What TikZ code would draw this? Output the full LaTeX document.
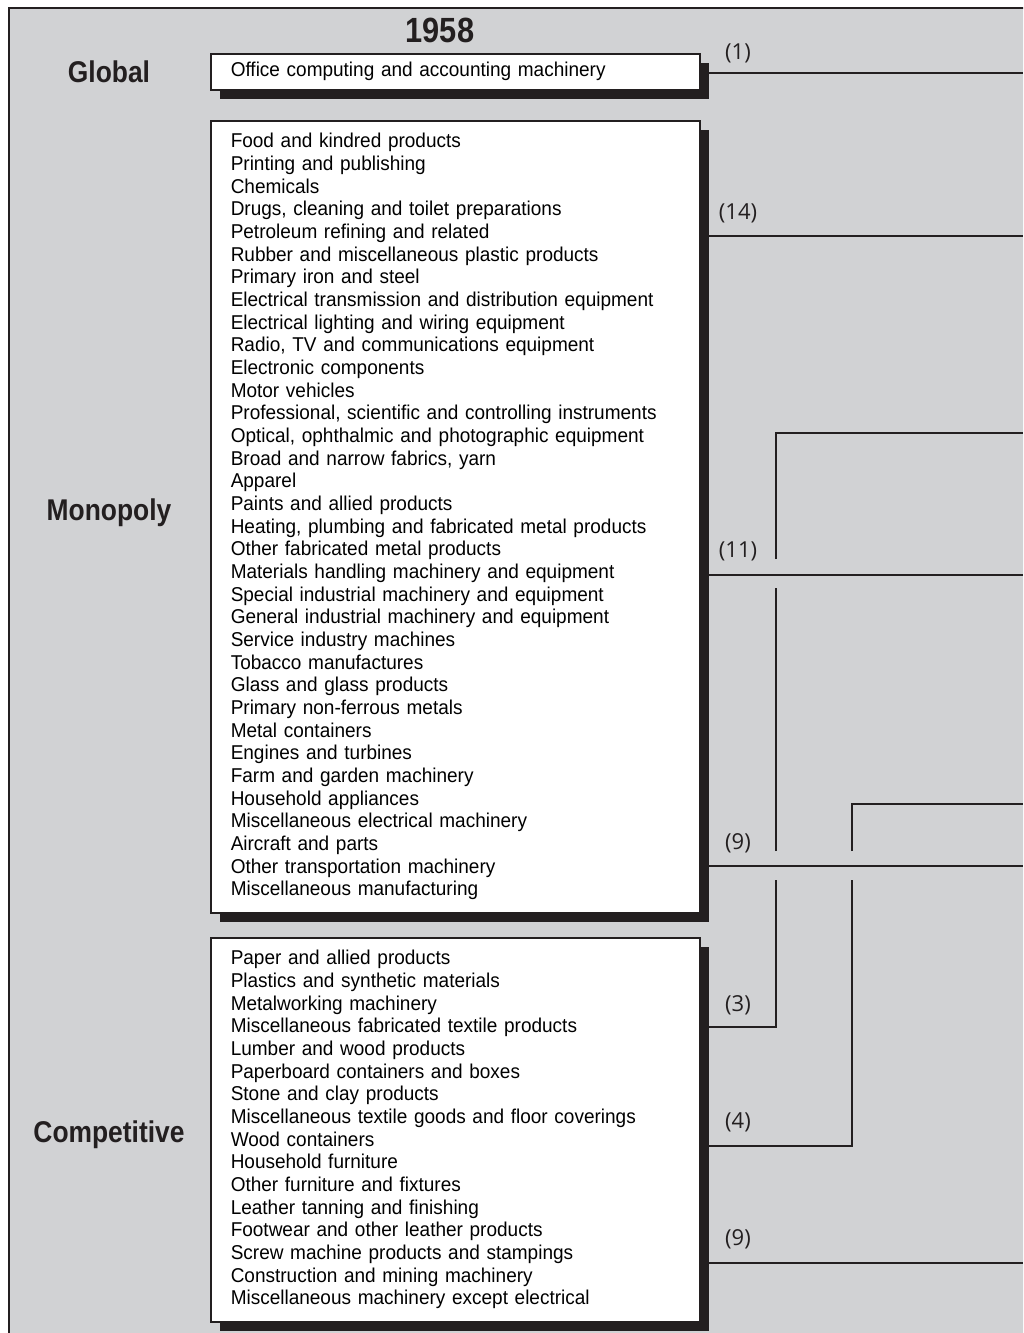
\documentclass[tikz,border=0pt]{standalone}
\usepackage{fontspec}
\setmainfont{Liberation Sans}[FakeStretch=0.95]
\newfontfamily\headfont{Liberation Sans}[FakeStretch=0.88]
\newfontfamily\labfont{Open Sans}
\usetikzlibrary{shadows}
\definecolor{bg}{HTML}{D1D2D4}
\definecolor{ink}{HTML}{231F20}
\begin{document}
\begin{tikzpicture}[x=1pt,y=-1pt,
  listbox/.style={draw=ink, line width=1.5pt, fill=white, anchor=north west,
    minimum width=489pt, inner xsep=20pt, inner ysep=0pt, text width=449pt,
    align=left, text=black, font=\fontsize{20}{22.67}\selectfont,
    drop shadow={shadow xshift=9pt, shadow yshift=-9pt, fill=ink, opacity=1}},
  head/.style={anchor=base, text=ink, font=\headfont\bfseries\fontsize{35}{35}\selectfont},
  cat/.style={anchor=base, text=ink, font=\headfont\bfseries\fontsize{30}{30}\selectfont},
  lab/.style={text=ink, inner sep=0pt, font=\labfont\fontsize{22}{22}\selectfont},
  conn/.style={draw=ink, line width=2pt, line join=miter}]
\useasboundingbox (0,0) rectangle (1023,1333);
\clip (0,0) rectangle (1023,1333);
\fill[white] (0,0) rectangle (1023,1333);
\fill[bg] (9,8) rectangle (1040,1350);
\draw[ink, line width=2.5pt] (9,1350) -- (9,8) -- (1040,8);

\node[head] (yr) at (440,42) {1958};
\node[cat] (cg) at (109,82) {Global};
\node[cat] (cm) at (109,520) {Monopoly};
\node[cat] (cc) at (109,1142) {Competitive};

\node[listbox, minimum height=36pt] (glob) at (210,53) {Office computing and accounting machinery};
\node[listbox, minimum height=792pt] (mono) at (210,120) {Food and kindred products\\
Printing and publishing\\
Chemicals\\
Drugs, cleaning and toilet preparations\\
Petroleum refining and related\\
Rubber and miscellaneous plastic products\\
Primary iron and steel\\
Electrical transmission and distribution equipment\\
Electrical lighting and wiring equipment\\
Radio, TV and communications equipment\\
Electronic components\\
Motor vehicles\\
Professional, scientific and controlling instruments\\
Optical, ophthalmic and photographic equipment\\
Broad and narrow fabrics, yarn\\
Apparel\\
Paints and allied products\\
Heating, plumbing and fabricated metal products\\
Other fabricated metal products\\
Materials handling machinery and equipment\\
Special industrial machinery and equipment\\
General industrial machinery and equipment\\
Service industry machines\\
Tobacco manufactures\\
Glass and glass products\\
Primary non-ferrous metals\\
Metal containers\\
Engines and turbines\\
Farm and garden machinery\\
Household appliances\\
Miscellaneous electrical machinery\\
Aircraft and parts\\
Other transportation machinery\\
Miscellaneous manufacturing};
\node[listbox, minimum height=384pt] (comp) at (210,937) {Paper and allied products\\
Plastics and synthetic materials\\
Metalworking machinery\\
Miscellaneous fabricated textile products\\
Lumber and wood products\\
Paperboard containers and boxes\\
Stone and clay products\\
Miscellaneous textile goods and floor coverings\\
Wood containers\\
Household furniture\\
Other furniture and fixtures\\
Leather tanning and finishing\\
Footwear and other leather products\\
Screw machine products and stampings\\
Construction and mining machinery\\
Miscellaneous machinery except electrical};

% labels
\node[lab] (l1) at (738,53) {(1)};
\node[lab] (l14) at (738,213) {(14)};
\node[lab] (l11) at (738,551) {(11)};
\node[lab] (l9) at (738,843) {(9)};
\node[lab] (l3) at (738,1005) {(3)};
\node[lab] (l4) at (738,1122) {(4)};
\node[lab] (l9b) at (738,1239) {(9)};

% right-edge ends
\coordinate (e1) at (1023,73);
\coordinate (e14) at (1023,236);
\coordinate (e11) at (1023,575);
\coordinate (e9) at (1023,866);
\coordinate (e9b) at (1023,1263);
\coordinate (e3) at (1023,433);
\coordinate (e4) at (1023,804);
% bends
\coordinate (k3) at (776,1027);
\coordinate (t3) at (776,433);
\coordinate (k4) at (852,1146);
\coordinate (t4) at (852,804);

\draw[conn] (glob.east |- e1) -- (e1);
\draw[conn] (mono.east |- e14) -- (e14);
\draw[conn] (mono.east |- e11) -- (e11);
\draw[conn] (mono.east |- e9) -- (e9);
\draw[conn] (comp.east |- e9b) -- (e9b);

\draw[conn] (comp.east |- k3) -- (k3) -- (776,880);
\draw[conn] (776,851) -- (776,588);
\draw[conn] (776,559) -- (t3) -- (e3);

\draw[conn] (comp.east |- k4) -- (k4) -- (852,880);
\draw[conn] (852,851) -- (t4) -- (e4);
\end{tikzpicture}
\end{document}
